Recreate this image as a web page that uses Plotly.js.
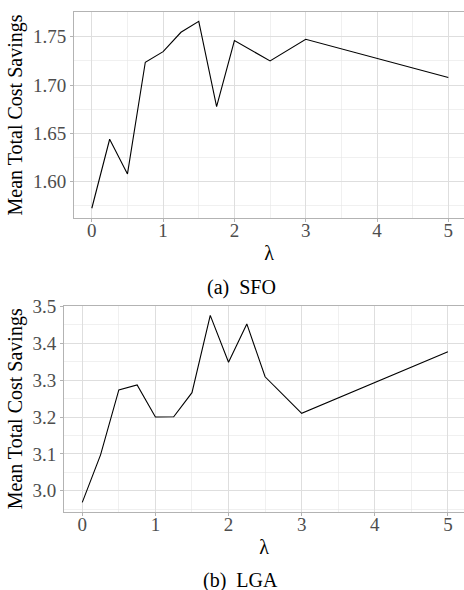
<!DOCTYPE html>
<html>
<head>
<meta charset="utf-8">
<script src="https://cdn.plot.ly/plotly-3.0.1.min.js"></script>
<style>html,body{margin:0;padding:0;background:#fff;}#chart{width:464px;height:590px;}</style>
</head>
<body>
<div id="chart"></div>
<script>
// Panel (a) SFO
const lambdaSFO = [0, 0.25, 0.5, 0.75, 1, 1.25, 1.5, 1.75, 2, 2.5, 3, 5];
const savingsSFO = [1.5725, 1.6439, 1.6080, 1.7236, 1.7346, 1.7546, 1.7660, 1.6776, 1.7460, 1.7250, 1.7474, 1.7078];
// Panel (b) LGA
const lambdaLGA = [0, 0.25, 0.5, 0.75, 1, 1.25, 1.5, 1.75, 2, 2.25, 2.5, 3, 5];
const savingsLGA = [2.9686, 3.0973, 3.2735, 3.2870, 3.2000, 3.2005, 3.2660, 3.4757, 3.3486, 3.4524, 3.3090, 3.2100, 3.3768];
const xTicks = [0, 1, 2, 3, 4, 5];
const yTicksSFO = [1.60, 1.65, 1.70, 1.75];
const yTicksLGA = [3.0, 3.1, 3.2, 3.3, 3.4, 3.5];
const captions = ["(a)\u00A0 SFO", "(b)\u00A0 LGA"];
const xTitle = "λ";
const yTitle = "Mean Total Cost Savings";

const FONT = "Liberation Serif, Times New Roman, serif";
const H = 590, W = 464;

function xax(leftPx) {
  return {
    domain: [leftPx / W, 1],
    range: [-0.25, 5.22],
    tickvals: xTicks,
    ticktext: xTicks.map(String),
    showgrid: true, gridcolor: "#dedede", gridwidth: 1,
    minor: {dtick: 0.5, tick0: 0, showgrid: true, gridcolor: "#e6e6e6", gridwidth: 0.6, ticks: ""},
    showline: true, mirror: true, linecolor: "#b3b3b3", linewidth: 1,
    ticks: "outside", ticklen: 3, tickcolor: "#b3b3b3", tickwidth: 1,
    ticklabelstandoff: -8,
    tickfont: {family: FONT, size: 19, color: "#4d4d4d"},
    title: {text: xTitle, font: {family: FONT, size: 20, color: "#000"}, standoff: 6},
    zeroline: false, fixedrange: true
  };
}
function yax(topPx, botPx, range, ticks, fmt, minorD, anchor) {
  return {
    domain: [1 - botPx / H, 1 - topPx / H],
    range: range,
    tickvals: ticks,
    ticktext: ticks.map(v => v.toFixed(fmt)),
    showgrid: true, gridcolor: "#dedede", gridwidth: 1,
    minor: {dtick: minorD, tick0: ticks[0], showgrid: true, gridcolor: "#e6e6e6", gridwidth: 0.6, ticks: ""},
    showline: true, mirror: true, linecolor: "#b3b3b3", linewidth: 1,
    ticks: "outside", ticklen: 3, tickcolor: "#b3b3b3", tickwidth: 1,
    tickfont: {family: FONT, size: 19, color: "#4d4d4d"},
    title: {text: yTitle, font: {family: FONT, size: 20, color: "#000"}, standoff: 4},
    zeroline: false, fixedrange: true, anchor: anchor
  };
}

const data = [
  {x: lambdaSFO, y: savingsSFO, type: "scatter", mode: "lines", line: {color: "#000", width: 1.1}, xaxis: "x", yaxis: "y", hoverinfo: "skip"},
  {x: lambdaLGA, y: savingsLGA, type: "scatter", mode: "lines", line: {color: "#000", width: 1.1}, xaxis: "x2", yaxis: "y2", hoverinfo: "skip"}
];

const layout = {
  width: W, height: H,
  margin: {l: 0, r: 0, t: 0, b: 0},
  paper_bgcolor: "#fff", plot_bgcolor: "#fff",
  showlegend: false,
  font: {family: FONT},
  xaxis: Object.assign(xax(74), {anchor: "y"}),
  yaxis: yax(12, 218, [1.5624, 1.7756], yTicksSFO, 2, 0.025, "x"),
  xaxis2: Object.assign(xax(64), {anchor: "y2"}),
  yaxis2: yax(306, 511.7, [2.9432, 3.501], yTicksLGA, 1, 0.05, "x2"),
  annotations: [
    {text: captions[0], xref: "paper", yref: "paper", x: 241 / W, y: 1 - 287 / H, xanchor: "center", yanchor: "middle", showarrow: false, font: {family: FONT, size: 20, color: "#000"}},
    {text: captions[1], xref: "paper", yref: "paper", x: 240 / W, y: 1 - 580 / H, xanchor: "center", yanchor: "middle", showarrow: false, font: {family: FONT, size: 20, color: "#000"}}
  ]
};

Plotly.newPlot("chart", data, layout, {staticPlot: true, displayModeBar: false});
</script>
</body>
</html>
